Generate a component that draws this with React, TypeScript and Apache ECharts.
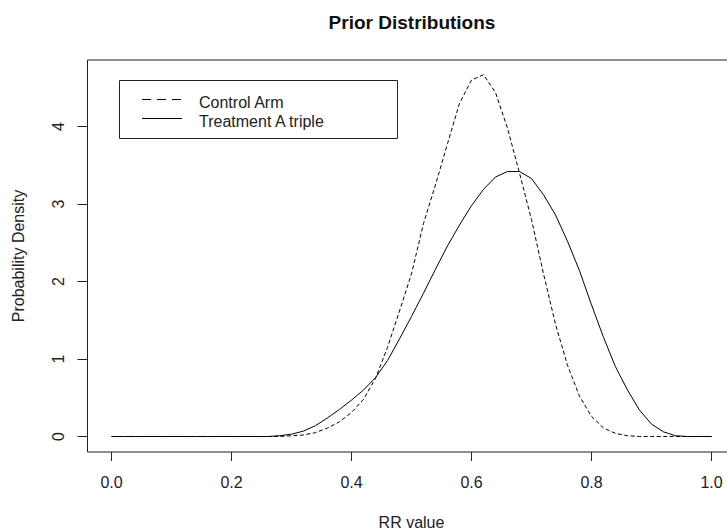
import React, { useEffect, useRef } from "react";
import * as echarts from "echarts";

const rrValues = [
  0.0, 0.02, 0.04, 0.06, 0.08, 0.1, 0.12, 0.14, 0.16, 0.18, 0.2, 0.22, 0.24,
  0.26, 0.28, 0.3, 0.32, 0.34, 0.36, 0.38, 0.4, 0.42, 0.44, 0.46, 0.48, 0.5,
  0.52, 0.54, 0.56, 0.58, 0.6, 0.62, 0.64, 0.66, 0.68, 0.7, 0.72, 0.74, 0.76,
  0.78, 0.8, 0.82, 0.84, 0.86, 0.88, 0.9, 0.92, 0.94, 0.96, 0.98, 1.0,
];

const controlArm = [
  0, 0, 0, 0, 0, 0, 0, 0, 0, 0, 0, 0, 0,
  0.0, 0.0, 0.01, 0.02, 0.05, 0.11, 0.19, 0.31, 0.48, 0.75, 1.15, 1.62, 2.1,
  2.75, 3.25, 3.78, 4.3, 4.6, 4.67, 4.44, 3.98, 3.4, 2.8, 2.1, 1.45, 0.92,
  0.52, 0.26, 0.11, 0.04, 0.01, 0, 0, 0, 0, 0, 0, 0,
];

const treatmentA = [
  0, 0, 0, 0, 0, 0, 0, 0, 0, 0, 0, 0, 0,
  0.0, 0.01, 0.03, 0.07, 0.14, 0.24, 0.35, 0.47, 0.6, 0.76, 0.98, 1.26, 1.55,
  1.85, 2.16, 2.46, 2.73, 2.98, 3.19, 3.35, 3.42, 3.42, 3.33, 3.12, 2.86, 2.52,
  2.14, 1.7, 1.28, 0.9, 0.6, 0.34, 0.16, 0.06, 0.01, 0, 0, 0,
];

const xTicks = [0, 0.2, 0.4, 0.6, 0.8, 1.0];
const yTicks = [0, 1, 2, 3, 4];
const seriesNames = ["Control Arm", "Treatment A triple"];
const titleText = "Prior Distributions";
const xName = "RR value";
const yName = "Probability Density";

export default function App() {
  const ref = useRef<HTMLDivElement>(null);
  useEffect(() => {
    if (!ref.current) return;
    const chart = echarts.init(ref.current, null, { renderer: "svg" });
    const font = "'Liberation Sans', Arial, sans-serif";
    const ink = "#222";
    chart.setOption({
      animation: false,
      backgroundColor: "#ffffff",
      title: {
        text: titleText,
        left: "center",
        top: 13,
        padding: 0,
        textStyle: { fontSize: 19, fontWeight: "bold", color: "#111", fontFamily: font },
      },
      grid: {
        left: 87.5,
        top: 60,
        width: 648,
        height: 392,
        containLabel: false,
        outerBoundsMode: "none",
        show: true,
        borderColor: ink,
        borderWidth: 1,
        backgroundColor: "transparent",
      },
      xAxis: {
        type: "value",
        min: -0.04,
        max: 1.04,
        name: xName,
        nameLocation: "middle",
        nameGap: 62,
        nameTextStyle: { fontSize: 16, color: ink, fontFamily: font },
        axisLine: { show: false, onZero: false },
        splitLine: { show: false },
        axisTick: { show: true, inside: false, length: 9, customValues: xTicks, lineStyle: { color: ink } },
        axisLabel: {
          customValues: xTicks,
          formatter: (v: number) => v.toFixed(1),
          margin: 22,
          fontSize: 16,
          color: ink,
          fontFamily: font,
        },
      },
      yAxis: {
        type: "value",
        min: -0.2,
        max: 4.86,
        name: yName,
        nameLocation: "middle",
        nameRotate: 90,
        nameGap: 61,
        nameTextStyle: { fontSize: 16, color: ink, fontFamily: font },
        axisLine: { show: false, onZero: false },
        splitLine: { show: false },
        axisTick: { show: true, inside: false, length: 10, customValues: yTicks, lineStyle: { color: ink } },
        axisLabel: {
          customValues: yTicks,
          rotate: 90,
          formatter: (v: number) => String(v),
          margin: 21,
          fontSize: 16,
          color: ink,
          fontFamily: font,
        },
      },
      series: [
        {
          name: seriesNames[0],
          type: "line",
          showSymbol: false,
          symbol: "none",
          data: rrValues.map((x, i) => [x, controlArm[i]]),
          lineStyle: { color: "#000", width: 1, type: [4, 2.5] },
          z: 2,
        },
        {
          name: seriesNames[1],
          type: "line",
          showSymbol: false,
          symbol: "none",
          data: rrValues.map((x, i) => [x, treatmentA[i]]),
          lineStyle: { color: "#000", width: 1, type: "solid" },
          z: 3,
        },
      ],
      graphic: [
        {
          type: "rect",
          shape: { x: 119.5, y: 80.5, width: 278, height: 58 },
          style: { fill: "#fff", stroke: ink, lineWidth: 1 },
          z: 10,
        },
        {
          type: "line",
          shape: { x1: 142, y1: 99.5, x2: 182, y2: 99.5 },
          style: { stroke: "#000", lineWidth: 1.2, lineDash: [9, 6] },
          z: 11,
        },
        {
          type: "line",
          shape: { x1: 142, y1: 118.5, x2: 182, y2: 118.5 },
          style: { stroke: "#000", lineWidth: 1.2 },
          z: 11,
        },
        {
          type: "text",
          x: 199,
          y: 102,
          style: {
            text: seriesNames[0],
            fontSize: 16,
            fontFamily: font,
            fill: ink,
            verticalAlign: "middle",
          },
          z: 11,
        },
        {
          type: "text",
          x: 199,
          y: 121,
          style: {
            text: seriesNames[1],
            fontSize: 16,
            fontFamily: font,
            fill: ink,
            verticalAlign: "middle",
          },
          z: 11,
        },
      ],
    });
    return () => chart.dispose();
  }, []);
  return (
    <div
      style={{
        position: "fixed",
        left: 0,
        top: 0,
        width: 727,
        height: 529,
        overflow: "hidden",
        background: "#fff",
      }}
    >
      <div ref={ref} style={{ width: 824, height: 529 }} />
    </div>
  );
}
